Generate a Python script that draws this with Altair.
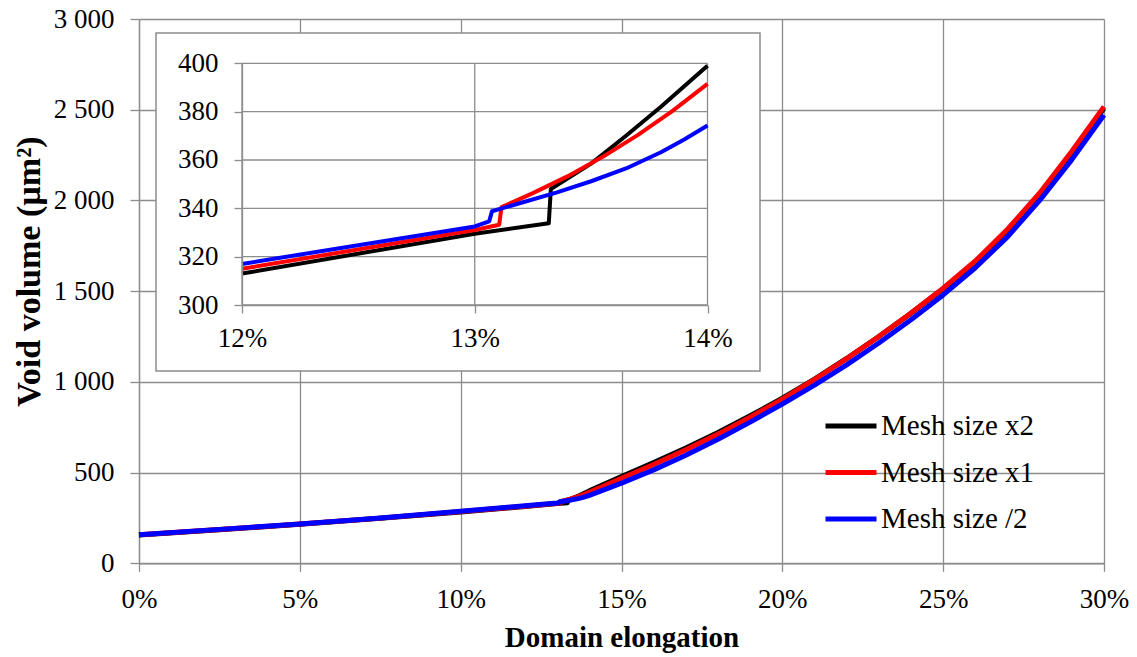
import altair as alt
import pandas as pd

FONT = "Liberation Serif"
GRID = "#8c8c8c"

SERIES = ["Mesh size x2", "Mesh size x1", "Mesh size /2"]
COLORS = ["#000000", "#ff0000", "#0000ff"]

# Domain elongation (%) and void volume (µm²) for each mesh size
x2_elong = [0, 2.5, 5, 7.5, 10, 12, 13, 13.318, 13.327, 13.5, 13.65, 13.8, 14,
            15, 16, 17, 18, 19, 20, 21, 22, 23, 24, 25, 26, 27, 28, 29, 30]
x2_vol = [156, 185, 215, 248, 283, 313, 329.5, 333.8, 348, 358.5, 370, 382, 399,
          478, 556, 636, 721, 813, 910, 1015, 1129, 1250, 1378, 1513, 1662, 1836, 2034, 2262, 2508]

x1_elong = [0, 2.5, 5, 7.5, 10, 12, 13, 13.105, 13.115, 13.25, 13.4, 13.55, 13.7, 13.85, 14,
            15, 16, 17, 18, 19, 20, 21, 22, 23, 24, 25, 26, 27, 28, 29, 30]
x1_vol = [157, 186, 216, 249, 285, 315, 331, 333.2, 340.5, 346.3, 353.3, 361.3, 370.3, 380.3, 391.5,
          468, 545, 626, 712, 805, 905, 1013, 1128, 1250, 1379, 1516, 1666, 1841, 2041, 2271, 2517]

half_elong = [0, 2.5, 5, 7.5, 10, 12, 13, 13.062, 13.074, 13.2, 13.35, 13.5, 13.65, 13.8, 13.9, 14,
              15, 16, 17, 18, 19, 20, 21, 22, 23, 24, 25, 26, 27, 28, 29, 30]
half_vol = [158, 187, 217, 250, 286.5, 317, 332.5, 334.6, 338.8, 342.3, 346.5, 351.2, 356.5, 363.2, 368.5, 374.3,
            442, 515, 596, 684, 778, 878, 982, 1094, 1214, 1342, 1479, 1629, 1799, 2000, 2225, 2471]

# Axis ticks
MAIN_X_TICKS = [0, 5, 10, 15, 20, 25, 30]
MAIN_Y_TICKS = [0, 500, 1000, 1500, 2000, 2500, 3000]
INSET_X_TICKS = [12, 13, 14]
INSET_Y_TICKS = [300, 320, 340, 360, 380, 400]

frames = []
for name, xs, ys in zip(SERIES, [x2_elong, x1_elong, half_elong], [x2_vol, x1_vol, half_vol]):
    frames.append(pd.DataFrame({"elong": xs, "vol": ys, "mesh": name, "idx": range(len(xs))}))
df = pd.concat(frames, ignore_index=True)

W, H = 965, 544.3

color = alt.Color(
    "mesh:N",
    scale=alt.Scale(domain=SERIES, range=COLORS),
    legend=alt.Legend(
        title=None, orient="none", legendX=684, legendY=379,
        symbolType="stroke", symbolSize=2601, symbolStrokeWidth=5,
        labelFont=FONT, labelFontSize=29, labelColor="black",
        labelOffset=2, rowPadding=3.5, padding=0,
    ),
)

# ---- main chart ----
main_x = alt.X(
    "elong:Q",
    scale=alt.Scale(domain=[0, 30], nice=False, zero=False),
    axis=alt.Axis(
        values=MAIN_X_TICKS, labelExpr="datum.value + '%'", labelFlush=False,
        title="Domain elongation", grid=True, gridColor=GRID, gridWidth=1.3,
        domainColor=GRID, domainWidth=1.3, tickColor=GRID, tickWidth=1.3, tickSize=8,
        labelFont=FONT, labelFontSize=27, labelColor="black", labelPadding=15,
        titleFont=FONT, titleFontSize=29, titleFontWeight="bold", titleColor="black",
        titlePadding=11,
    ),
)
main_y = alt.Y(
    "vol:Q",
    scale=alt.Scale(domain=[0, 3000], nice=False, zero=False),
    axis=alt.Axis(
        values=MAIN_Y_TICKS, labelExpr="replace(format(datum.value, ','), ',', ' ')",
        labelFlush=False,
        title="Void volume (µm²)", grid=True, gridColor=GRID, gridWidth=1.3,
        domainColor=GRID, domainWidth=1.3, tickColor=GRID, tickWidth=1.3, tickSize=9,
        labelFont=FONT, labelFontSize=27, labelColor="black", labelPadding=16,
        titleFont=FONT, titleFontSize=34, titleFontWeight="bold", titleColor="black",
        titlePadding=7, titleY=252,
    ),
)

main = alt.Chart(df).mark_line(strokeWidth=5, strokeJoin="round").encode(
    x=main_x, y=main_y, color=color, order="idx:Q"
)

# ---- inset (12 % - 14 %) ----
ix_scale = alt.Scale(domain=[12, 14], range=[103, 568.5], nice=False, zero=False)
iy_scale = alt.Scale(domain=[300, 400], range=[286, 44.3], nice=False, zero=False)

ix_axis = alt.Axis(
    orient="bottom", offset=-(H - 286), values=INSET_X_TICKS, labelExpr="datum.value + '%'",
    labelFlush=False, title=None, grid=False, zindex=1,
    domainColor=GRID, domainWidth=1.3, tickColor=GRID, tickWidth=1.3, tickSize=8,
    labelFont=FONT, labelFontSize=27, labelColor="black", labelPadding=12,
)
iy_axis = alt.Axis(
    orient="left", offset=-103, values=INSET_Y_TICKS, labelFlush=False,
    title=None, grid=False, zindex=1,
    domainColor=GRID, domainWidth=1.3, tickColor=GRID, tickWidth=1.3, tickSize=8,
    labelFont=FONT, labelFontSize=27, labelColor="black", labelPadding=16,
)

box = alt.Chart(pd.DataFrame({"k": [0]})).mark_rect(
    fill="white", stroke=GRID, strokeWidth=1.5
).encode(x=alt.value(17), x2=alt.value(621), y=alt.value(14), y2=alt.value(352))

vgrid = pd.DataFrame({"t": INSET_X_TICKS, "lo": INSET_Y_TICKS[0], "hi": INSET_Y_TICKS[-1]})
hgrid = pd.DataFrame({"t": INSET_Y_TICKS, "lo": INSET_X_TICKS[0], "hi": INSET_X_TICKS[-1]})

vrules = alt.Chart(vgrid).mark_rule(color=GRID, strokeWidth=1.3).encode(
    x=alt.X("t:Q", scale=ix_scale, axis=ix_axis),
    y=alt.Y("lo:Q", scale=iy_scale, axis=iy_axis),
    y2="hi:Q",
)
hrules = alt.Chart(hgrid).mark_rule(color=GRID, strokeWidth=1.3).encode(
    y=alt.Y("t:Q", scale=iy_scale, axis=iy_axis),
    x=alt.X("lo:Q", scale=ix_scale, axis=ix_axis),
    x2="hi:Q",
)

inset_lines = alt.Chart(df).transform_filter(
    alt.FieldRangePredicate(field="elong", range=[12, 14])
).mark_line(strokeWidth=4, strokeJoin="round").encode(
    x=alt.X("elong:Q", scale=ix_scale, axis=ix_axis),
    y=alt.Y("vol:Q", scale=iy_scale, axis=iy_axis),
    color=color,
    order="idx:Q",
)

inset = alt.layer(box, vrules, hrules, inset_lines)

chart = alt.layer(main, inset).resolve_scale(x="independent", y="independent").properties(
    width=W, height=H,
    padding={"left": 139, "top": 19, "right": 33, "bottom": 657 - 19 - H},
    autosize=alt.AutoSizeParams(type="none"),
    background="white",
).configure(font=FONT).configure_view(strokeWidth=0)

chart.save("out.html", embed_options={"renderer": "svg", "actions": False})
